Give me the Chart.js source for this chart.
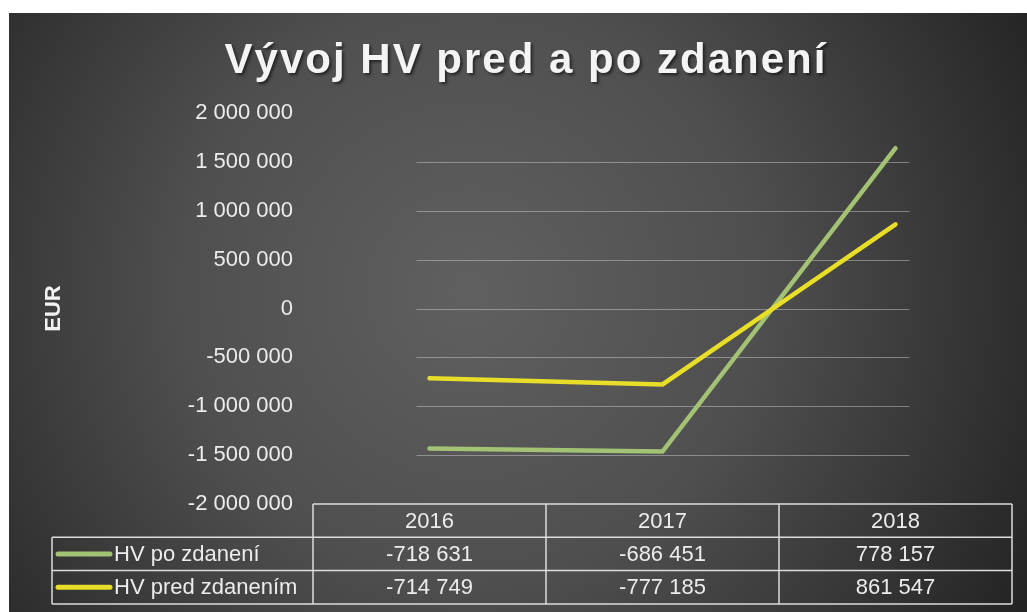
<!DOCTYPE html>
<html lang="sk">
<head>
<meta charset="utf-8">
<title>Vývoj HV pred a po zdanení</title>
<script src="https://cdn.jsdelivr.net/npm/chart.js@4/dist/chart.umd.min.js"></script>
<style>
  html, body { margin: 0; padding: 0; background: #fff; }
  #wrap { width: 1027px; height: 612px; position: relative; }
</style>
</head>
<body>
<div id="wrap"><canvas id="hv-chart"></canvas></div>
<script>
// údaje z grafu
const chartTitle = 'Vývoj HV pred a po zdanení';
const years = ['2016', '2017', '2018'];
const hvPoZdaneni = [-718631, -686451, 778157];
const hvPredZdanenim = [-714749, -777185, 861547];
const seriesNames = ['HV po zdanení', 'HV pred zdanením'];
const yMin = -2000000;
const yMax = 2000000;
const yStep = 500000;

const FONT = '"Liberation Sans", Arial, sans-serif';
const GREEN = 'rgb(163, 194, 116)';
const YELLOW = 'rgb(232, 222, 40)';
const TEXT = '#ececec';

function fmt(v) {
    return String(v).replace(/\B(?=(\d{3})+(?!\d))/g, '\u00a0');
}

// pozadie + nadpis
const backgroundPlugin = {
    id: 'background',
    beforeDraw(chart) {
        const ctx = chart.ctx;
        const w = chart.width, h = chart.height;
        ctx.save();
        ctx.fillStyle = '#ffffff';
        ctx.fillRect(0, 0, w, h);
        const g = ctx.createRadialGradient(470, 290, 0, 470, 290, 640);
        g.addColorStop(0, '#606060');
        g.addColorStop(0.45, '#4f4f4f');
        g.addColorStop(1, '#232323');
        ctx.fillStyle = g;
        ctx.fillRect(9, 13, w - 9, h - 13);

        ctx.font = 'bold 42px ' + FONT;
        ctx.letterSpacing = '2px';
        ctx.textAlign = 'center';
        ctx.textBaseline = 'alphabetic';
        ctx.shadowColor = 'rgba(0, 0, 0, 0.55)';
        ctx.shadowOffsetX = 2;
        ctx.shadowOffsetY = 2;
        ctx.shadowBlur = 3;
        ctx.fillStyle = '#f4f4f4';
        ctx.fillText(chartTitle, 526, 73);
        ctx.restore();
    }
};

// mriežka len v rozsahu bodov
const gridPlugin = {
    id: 'shortGrid',
    beforeDatasetsDraw(chart) {
        const ctx = chart.ctx;
        const x = chart.scales.x, y = chart.scales.y;
        const left = x.getPixelForValue(0) - 13;
        const right = x.getPixelForValue(years.length - 1) + 14;
        ctx.save();
        ctx.strokeStyle = 'rgba(215, 215, 215, 0.45)';
        ctx.lineWidth = 1;
        y.ticks.forEach(t => {
            if (t.value <= yMin || t.value >= yMax) return;
            const py = Math.round(y.getPixelForValue(t.value)) + 0.5;
            ctx.beginPath();
            ctx.moveTo(left, py);
            ctx.lineTo(right, py);
            ctx.stroke();
        });
        ctx.restore();
    }
};

// tabuľka údajov pod grafom
const dataTablePlugin = {
    id: 'dataTable',
    afterDraw(chart) {
        const ctx = chart.ctx;
        const x = chart.scales.x;
        const area = chart.chartArea;
        const rowH = 33.3;
        const top = area.bottom;
        const labelLeft = 52;
        const colEdges = [];
        for (let i = 0; i <= years.length; i++) {
            colEdges.push(x.getPixelForValue(i - 0.5));
        }
        const rows = [
            { name: seriesNames[0], values: hvPoZdaneni, color: GREEN },
            { name: seriesNames[1], values: hvPredZdanenim, color: YELLOW }
        ];

        ctx.save();
        ctx.strokeStyle = '#dcdcdc';
        ctx.lineWidth = 1.5;
        // horizontálne čiary
        const hLine = (x1, x2, yy) => {
            ctx.beginPath(); ctx.moveTo(x1, yy); ctx.lineTo(x2, yy); ctx.stroke();
        };
        const vLine = (xx, y1, y2) => {
            ctx.beginPath(); ctx.moveTo(xx, y1); ctx.lineTo(xx, y2); ctx.stroke();
        };
        hLine(colEdges[0], colEdges[years.length], top);
        for (let r = 1; r <= rows.length + 1; r++) {
            hLine(labelLeft, colEdges[years.length], top + rowH * r);
        }
        vLine(labelLeft, top + rowH, top + rowH * (rows.length + 1));
        colEdges.forEach(cx => vLine(cx, top, top + rowH * (rows.length + 1)));

        ctx.font = '22px ' + FONT;
        ctx.fillStyle = TEXT;
        ctx.textBaseline = 'middle';
        ctx.textAlign = 'center';
        years.forEach((yr, i) => {
            ctx.fillText(yr, x.getPixelForValue(i), top + rowH / 2 + 1);
        });
        rows.forEach((row, r) => {
            const cy = top + rowH * (r + 1.5);
            ctx.strokeStyle = row.color;
            ctx.lineWidth = 5;
            ctx.lineCap = 'round';
            hLine(labelLeft + 6, labelLeft + 58, cy);
            ctx.textAlign = 'left';
            ctx.fillStyle = TEXT;
            ctx.fillText(row.name, labelLeft + 62, cy + 1);
            ctx.textAlign = 'center';
            row.values.forEach((v, i) => {
                ctx.fillText(fmt(v), x.getPixelForValue(i), cy + 1);
            });
        });
        ctx.restore();
    }
};

const ctx = document.getElementById('hv-chart').getContext('2d');
new Chart(ctx, {
    type: 'line',
    data: {
        labels: years,
        datasets: [
            {
                label: seriesNames[1],
                data: hvPredZdanenim,
                borderColor: YELLOW,
                backgroundColor: YELLOW,
                borderWidth: 4.5,
                borderCapStyle: 'round',
                pointRadius: 0,
                fill: false,
                tension: 0
            },
            {
                label: seriesNames[0],
                data: hvPoZdaneni,
                borderColor: GREEN,
                backgroundColor: GREEN,
                borderWidth: 4.5,
                borderCapStyle: 'round',
                pointRadius: 0,
                fill: false,
                tension: 0
            }
        ]
    },
    options: {
        responsive: true,
        maintainAspectRatio: false,
        animation: false,
        layout: {
            padding: { top: 113, bottom: 108, left: 10, right: 15 }
        },
        scales: {
            x: {
                display: false,
                offset: true
            },
            y: {
                stacked: true,
                min: yMin,
                max: yMax,
                border: { display: false },
                grid: { display: false, drawTicks: false },
                ticks: {
                    stepSize: yStep,
                    padding: 20,
                    color: TEXT,
                    font: { family: FONT, size: 22 },
                    callback: v => fmt(v)
                },
                title: {
                    display: true,
                    text: 'EUR',
                    color: '#f2f2f2',
                    font: { family: FONT, size: 22, weight: 'bold' },
                    padding: { top: 31, bottom: 0 }
                },
                afterFit(scale) {
                    scale.width = 303;
                }
            }
        },
        plugins: {
            legend: { display: false },
            tooltip: { enabled: false }
        }
    },
    plugins: [backgroundPlugin, gridPlugin, dataTablePlugin]
});
</script>
</body>
</html>
